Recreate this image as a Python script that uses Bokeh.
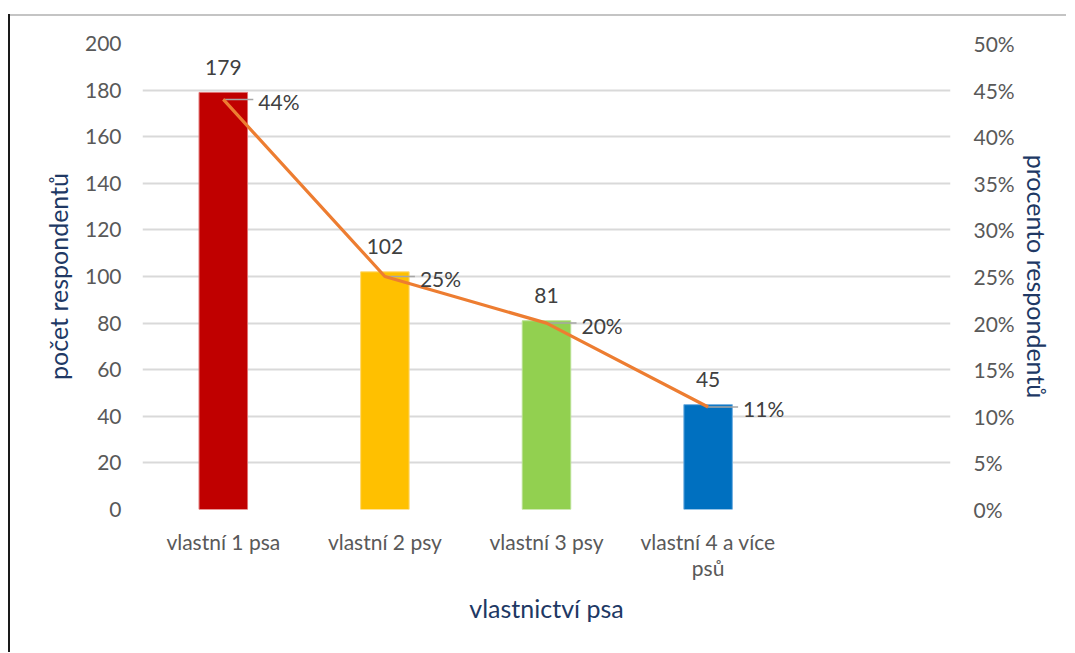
from bokeh.plotting import figure
from bokeh.models import (ColumnDataSource, Range1d, FactorRange, LinearAxis,
                          NumeralTickFormatter, FixedTicker)
from bokeh.core.properties import value
from bokeh.embed import file_html
from bokeh.resources import INLINE

# ---- data ----
categories = ["vlastní 1 psa", "vlastní 2 psy", "vlastní 3 psy", "vlastní 4 a více\npsů"]
empty_slot = [" "]
counts = [179, 102, 81, 45]
percents = [0.44, 0.25, 0.20, 0.11]
count_labels = ["179", "102", "81", "45"]
pct_labels = ["44%", "25%", "20%", "11%"]
bar_colors = ["#C00000", "#FFC000", "#92D050", "#0070C0"]
bar_edges = ["#E07070", "#FFD870", "#B8E090", "#70AEE0"]
left_ticks = [0, 20, 40, 60, 80, 100, 120, 140, 160, 180, 200]
right_ticks = [0, 0.05, 0.10, 0.15, 0.20, 0.25, 0.30, 0.35, 0.40, 0.45, 0.50]

FONT = "Lato"
TICK_COLOR = "#595959"
LABEL_COLOR = "#404040"
TITLE_COLOR = "#203864"
TICK_SIZE = "21px"
TITLE_SIZE = "25px"

src = ColumnDataSource(dict(cat=categories, cnt=counts, pct=percents,
                            cl=count_labels, pl=pct_labels,
                            col=bar_colors, edge=bar_edges))

p = figure(x_range=FactorRange(*(categories + empty_slot), range_padding=0),
           y_range=Range1d(0, 200),
           width=1066, height=652, output_backend="svg", toolbar_location=None,
           min_border_left=142, min_border_right=116, min_border_top=43,
           min_border_bottom=143)
# frame of the original screenshot: grey top edge, dark left edge
p.styles = {"box-shadow": "inset 8px 14px 0 0 #ffffff, inset 10px 0 0 0 #1a1a1a, "
                          "inset 0 16px 0 0 #c4c4c4"}
p.outline_line_color = None
p.background_fill_color = "white"
p.border_fill_alpha = 0

p.extra_y_ranges = {"pct": Range1d(0, 0.5)}

# bars
p.vbar(x="cat", top="cnt", width=0.30, source=src, fill_color="col",
       line_color="edge", line_width=1)

# leader lines
p.ray(x="cat", y="pct", length=30, length_units="screen", angle=0,
      line_color="#a6a6a6", line_width=1.5, y_range_name="pct", source=src)

# line
p.line(x="cat", y="pct", source=src, line_color="#ED7D31", line_width=3.2,
       y_range_name="pct")

# count labels
p.text(x="cat", y="cnt", text="cl", source=src, text_align="center",
       text_baseline="middle", y_offset=-25, text_font=value(FONT),
       text_font_size=TICK_SIZE, text_color=LABEL_COLOR)
# percent labels
p.text(x="cat", y="pct", text="pl", source=src, text_align="left",
       text_baseline="middle", x_offset=35, y_offset=2, text_font=value(FONT),
       text_font_size=TICK_SIZE, text_color=LABEL_COLOR, y_range_name="pct")

# grid
p.xgrid.grid_line_color = None
p.ygrid.grid_line_color = "#d9d9d9"
p.ygrid.grid_line_width = 2
p.ygrid.ticker = FixedTicker(ticks=left_ticks)

# left axis
la = p.yaxis[0]
la.ticker = FixedTicker(ticks=left_ticks)
la.axis_line_color = None
la.major_tick_line_color = None
la.minor_tick_line_color = None
la.major_label_standoff = 15
la.major_label_text_font = FONT
la.major_label_text_font_size = TICK_SIZE
la.major_label_text_color = TICK_COLOR
la.axis_label = "počet respondentů"
la.axis_label_text_font = FONT
la.axis_label_text_font_size = TITLE_SIZE
la.axis_label_text_font_style = "normal"
la.axis_label_text_color = TITLE_COLOR
la.axis_label_standoff = 9

# right axis
ra = LinearAxis(y_range_name="pct", ticker=FixedTicker(ticks=right_ticks),
                formatter=NumeralTickFormatter(format="0%"))
ra.axis_line_color = None
ra.major_tick_line_color = None
ra.minor_tick_line_color = None
ra.major_label_standoff = 17
ra.major_label_text_font = FONT
ra.major_label_text_font_size = TICK_SIZE
ra.major_label_text_color = TICK_COLOR
ra.axis_label = "procento respondentů"
ra.axis_label_text_font = FONT
ra.axis_label_text_font_size = TITLE_SIZE
ra.axis_label_text_font_style = "normal"
ra.axis_label_text_color = TITLE_COLOR
ra.axis_label_standoff = 4
p.add_layout(ra, "right")

# bottom axis
xa = p.xaxis[0]
xa.axis_line_color = None
xa.major_tick_line_color = None
xa.minor_tick_line_color = None
xa.major_label_standoff = 13
xa.major_label_text_font = FONT
xa.major_label_text_font_size = TICK_SIZE
xa.major_label_text_color = TICK_COLOR
xa.major_label_text_line_height = 1.05
xa.axis_label = "vlastnictví psa"
xa.axis_label_text_font = FONT
xa.axis_label_text_font_size = TITLE_SIZE
xa.axis_label_text_font_style = "normal"
xa.axis_label_text_color = TITLE_COLOR
xa.axis_label_standoff = 10

open("out.html", "w").write(file_html(p, INLINE))
